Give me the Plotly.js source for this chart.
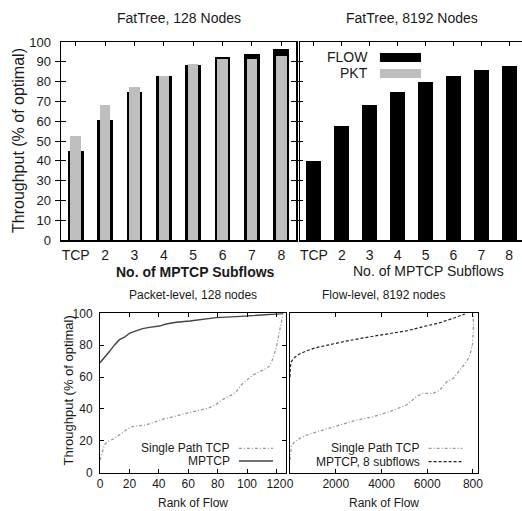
<!DOCTYPE html>
<html><head><meta charset="utf-8">
<script src="https://cdn.plot.ly/plotly-3.0.1.min.js"></script>
<style>html,body{margin:0;padding:0;background:#fff;overflow:hidden}</style>
</head><body><div id="chart" style="width:522px;height:511px"></div>
<script>
// ---- data ----
const subflowCategories = ["TCP","2","3","4","5","6","7","8"];
const flow128 = [44.9, 60.8, 74.5, 82.9, 88.4, 92.6, 94.1, 96.3];
const pkt128  = [52.3, 68.2, 77.4, 82.7, 88.9, 91.5, 91.5, 92.7];
const flow8192 = [39.7, 57.6, 68.0, 74.8, 79.7, 82.7, 85.8, 88.1];

const pktMptcpRank = [0, 1.8, 4, 6.4, 9.8, 13, 16.6, 20, 24.5, 29, 33.6, 40.5, 45, 51.8, 61, 70, 79, 92.7, 106, 120, 124.5];
const pktMptcpThr  = [69, 71, 72.8, 76, 80, 83.3, 85, 87.4, 89, 90.4, 91.2, 92, 93.3, 94.4, 95.2, 96.4, 97.3, 97.9, 98.5, 99.2, 99.8];
const pktTcpRank = [0, 1.4, 3, 5.2, 8.6, 13, 17.7, 22, 26.8, 31.4, 36, 42.7, 51.8, 61, 70, 74.5, 79, 83.6, 89.3, 92.7, 96, 99.5, 104, 111, 115.5, 117.7, 120, 121.8, 123.4, 124.5];
const pktTcpThr  = [8, 12, 17.4, 19.5, 21, 23.6, 26.8, 28.9, 29.5, 30, 31.4, 33.5, 35.6, 37.7, 39.7, 40.8, 43, 46, 48.7, 50.8, 55, 58, 61.3, 64.4, 67, 71.8, 79, 87.4, 95.8, 100];

const flowMptcpRank = [0, 15, 58, 204, 423, 715, 1153, 1737, 2467, 3343, 4219, 5095, 5825, 6555, 7139, 7650];
const flowMptcpThr  = [60, 66.5, 69.7, 72.4, 74.5, 76.4, 78.5, 80.5, 82.6, 84.9, 87, 89, 91.6, 94.1, 96.9, 99.6];
const flowTcpRank = [0, 58, 204, 423, 861, 1445, 2175, 2905, 3635, 4365, 5095, 5533, 5825, 6263, 6555, 6847, 7139, 7431, 7723, 7869, 7986, 8015, 8020];
const flowTcpThr  = [8, 16.3, 19.5, 21.5, 24.3, 26.8, 29.5, 33, 35.1, 38.3, 42.5, 47.7, 49.8, 49.8, 51.9, 57, 59.2, 64.4, 69.7, 73.8, 81, 89.5, 100];

const yTicksTop = [0,10,20,30,40,50,60,70,80,90,100];
const yTicksBottom = [0,20,40,60,80,100];
const pktRankTicks = [0,20,40,60,80,100,120];
const flowRankTicks = [0,2000,4000,6000,8000];
const flowRankTickText = ["0","2000","4000","6000","800"];

// ---- layout helpers ----
const W = 522, H = 511;
const px = v => v / W;
const py = v => 1 - v / H;
const FONT = "Liberation Sans, Arial, Helvetica, sans-serif";
const TXT = "#1a1a1a";
const catIdx = subflowCategories.map((c, i) => i);
const noVals = catIdx.map(() => null);

const traces = [
  {type:"bar", x:subflowCategories, y:flow128, width:0.54, marker:{color:"#000", line:{width:0}}, xaxis:"x", yaxis:"y", showlegend:false, hoverinfo:"none"},
  {type:"bar", x:subflowCategories, y:pkt128, width:0.36, marker:{color:"#bebebe", line:{width:0}}, xaxis:"x", yaxis:"y", showlegend:false, hoverinfo:"none"},
  {type:"bar", x:subflowCategories, y:flow8192, width:0.54, marker:{color:"#000", line:{width:0}}, xaxis:"x2", yaxis:"y2", showlegend:false, hoverinfo:"none"},
  // empty carriers so the top tick-only axes are drawn
  {type:"scatter", mode:"lines", x:catIdx, y:noVals, xaxis:"x5", yaxis:"y", showlegend:false, hoverinfo:"none"},
  {type:"scatter", mode:"lines", x:catIdx, y:noVals, xaxis:"x6", yaxis:"y2", showlegend:false, hoverinfo:"none"},
  {type:"scatter", mode:"lines", x:pktTcpRank, y:pktTcpThr, line:{color:"#9a9a9a", width:1.3, dash:"3px,2px,1px,2px"}, xaxis:"x3", yaxis:"y3", showlegend:false},
  {type:"scatter", mode:"lines", x:pktMptcpRank, y:pktMptcpThr, line:{color:"#444", width:1.4}, xaxis:"x3", yaxis:"y3", showlegend:false},
  {type:"scatter", mode:"lines", x:flowTcpRank, y:flowTcpThr, line:{color:"#9a9a9a", width:1.3, dash:"3px,2px,1px,2px"}, xaxis:"x4", yaxis:"y4", showlegend:false},
  {type:"scatter", mode:"lines", x:flowMptcpRank, y:flowMptcpThr, line:{color:"#222", width:1.2, dash:"3px,2px"}, xaxis:"x4", yaxis:"y4", showlegend:false}
];

const baseAx = {showgrid:false, zeroline:false, showline:true, linecolor:"#000", tickcolor:"#000", tickfont:{family:FONT, size:12, color:TXT}, fixedrange:true};

const layout = {
  width:W, height:H, margin:{l:0,r:0,t:0,b:0}, paper_bgcolor:"#fff", plot_bgcolor:"#fff",
  barmode:"overlay", bargap:0, font:{family:FONT, color:TXT},
  xaxis: Object.assign({}, baseAx, {domain:[px(61), px(296)], anchor:"y", type:"category", range:[-0.5,7.5], linewidth:1.5, mirror:true, ticks:"", tickfont:{family:FONT,size:14,color:TXT}, ticklabelstandoff:2}),
  xaxis5: {overlaying:"x", anchor:"y", side:"top", type:"linear", range:[-0.5,7.5], tickvals:catIdx, ticks:"inside", ticklen:4, tickcolor:"#000", tickwidth:1, showticklabels:false, showgrid:false, zeroline:false, showline:false, fixedrange:true},
  yaxis: Object.assign({}, baseAx, {domain:[py(240), py(42)], anchor:"x", range:[0,100], tickvals:yTicksTop, linewidth:1.5, mirror:"allticks", ticks:"inside", ticklen:5, tickfont:{family:FONT,size:13,color:TXT}, ticklabelstandoff:6}),
  xaxis2: Object.assign({}, baseAx, {domain:[px(300), 1], anchor:"y2", type:"category", range:[-0.5,7.457], linewidth:1.5, mirror:true, ticks:"", tickfont:{family:FONT,size:14,color:TXT}, ticklabelstandoff:2}),
  xaxis6: {overlaying:"x2", anchor:"y2", side:"top", type:"linear", range:[-0.5,7.457], tickvals:catIdx, ticks:"inside", ticklen:4, tickcolor:"#000", tickwidth:1, showticklabels:false, showgrid:false, zeroline:false, showline:false, fixedrange:true},
  yaxis2: Object.assign({}, baseAx, {domain:[py(240), py(42)], anchor:"x2", range:[0,100], linewidth:1.5, mirror:false, ticks:"", showticklabels:false}),
  xaxis3: Object.assign({}, baseAx, {domain:[px(100), px(286)], anchor:"y3", range:[0,126.5], tickvals:pktRankTicks, linewidth:1, mirror:"allticks", ticks:"inside", ticklen:4}),
  yaxis3: Object.assign({}, baseAx, {domain:[py(472.7), py(313.3)], anchor:"x3", range:[0,100], tickvals:yTicksBottom, linewidth:1, mirror:"allticks", ticks:"inside", ticklen:4, ticklabelstandoff:4}),
  xaxis4: Object.assign({}, baseAx, {domain:[px(290), px(478.3)], anchor:"y4", range:[0,8234], tickvals:flowRankTicks, ticktext:flowRankTickText, linewidth:1, mirror:"allticks", ticks:"inside", ticklen:4}),
  yaxis4: Object.assign({}, baseAx, {domain:[py(472.7), py(313.3)], anchor:"x4", range:[0,100], linewidth:1, mirror:true, ticks:"", showticklabels:false}),
  annotations: [
    {text:"FatTree, 128 Nodes", x:px(178.5), y:py(18.3), font:{size:14}},
    {text:"FatTree, 8192 Nodes", x:px(411.7), y:py(18.3), font:{size:14}},
    {text:"<b>No. of MPTCP Subflows</b>", x:px(195), y:py(271.7), font:{size:14}},
    {text:"No. of MPTCP Subflows", x:px(428.7), y:py(270.7), font:{size:14}},
    {text:"Throughput (% of optimal)", x:px(19), y:py(141), textangle:-90, font:{size:16}},
    {text:"Packet-level, 128 nodes", x:px(193), y:py(295), font:{size:12}},
    {text:"Flow-level, 8192 nodes", x:px(383), y:py(295), font:{size:12}},
    {text:"Rank of Flow", x:px(193), y:py(503), font:{size:12}},
    {text:"Rank of Flow", x:px(384), y:py(503), font:{size:12}},
    {text:"Throughput (% of optimal)", x:px(67.5), y:py(391), textangle:-90, font:{size:13}},
    {text:"FLOW", x:0.315, y:0.922, xref:"x2 domain", yref:"y2 domain", xanchor:"right", font:{size:14}},
    {text:"PKT", x:0.315, y:0.841, xref:"x2 domain", yref:"y2 domain", xanchor:"right", font:{size:14}},
    {text:"Single Path TCP", x:0.708, y:0.153, xref:"x3 domain", yref:"y3 domain", xanchor:"right", font:{size:12}},
    {text:"MPTCP", x:0.708, y:0.073, xref:"x3 domain", yref:"y3 domain", xanchor:"right", font:{size:12}},
    {text:"Single Path TCP", x:0.699, y:0.153, xref:"x4 domain", yref:"y4 domain", xanchor:"right", font:{size:12}},
    {text:"MPTCP, 8 subflows", x:0.699, y:0.070, xref:"x4 domain", yref:"y4 domain", xanchor:"right", font:{size:12}}
  ].map(a => Object.assign({xref:"paper", yref:"paper", showarrow:false, xanchor:"center", yanchor:"middle"}, a, {font:Object.assign({family:FONT, color:TXT}, a.font)})),
  shapes: [
    {type:"rect", xref:"x2 domain", yref:"y2 domain", x0:0.36, x1:0.545, y0:0.899, y1:0.944, fillcolor:"#000", line:{width:0}},
    {type:"rect", xref:"x2 domain", yref:"y2 domain", x0:0.36, x1:0.545, y0:0.818, y1:0.864, fillcolor:"#bebebe", line:{width:0}},
    {type:"line", xref:"x3 domain", yref:"y3 domain", x0:0.747, x1:0.930, y0:0.153, y1:0.153, line:{color:"#9a9a9a", width:1.3, dash:"3px,2px,1px,2px"}},
    {type:"line", xref:"x3 domain", yref:"y3 domain", x0:0.747, x1:0.930, y0:0.073, y1:0.073, line:{color:"#444", width:1.4}},
    {type:"line", xref:"x4 domain", yref:"y4 domain", x0:0.736, x1:0.915, y0:0.153, y1:0.153, line:{color:"#9a9a9a", width:1.3, dash:"3px,2px,1px,2px"}},
    {type:"line", xref:"x4 domain", yref:"y4 domain", x0:0.736, x1:0.915, y0:0.070, y1:0.070, line:{color:"#222", width:1.2, dash:"3px,2px"}}
  ]
};

Plotly.newPlot("chart", traces, layout, {staticPlot:true, displayModeBar:false});
</script></body></html>
